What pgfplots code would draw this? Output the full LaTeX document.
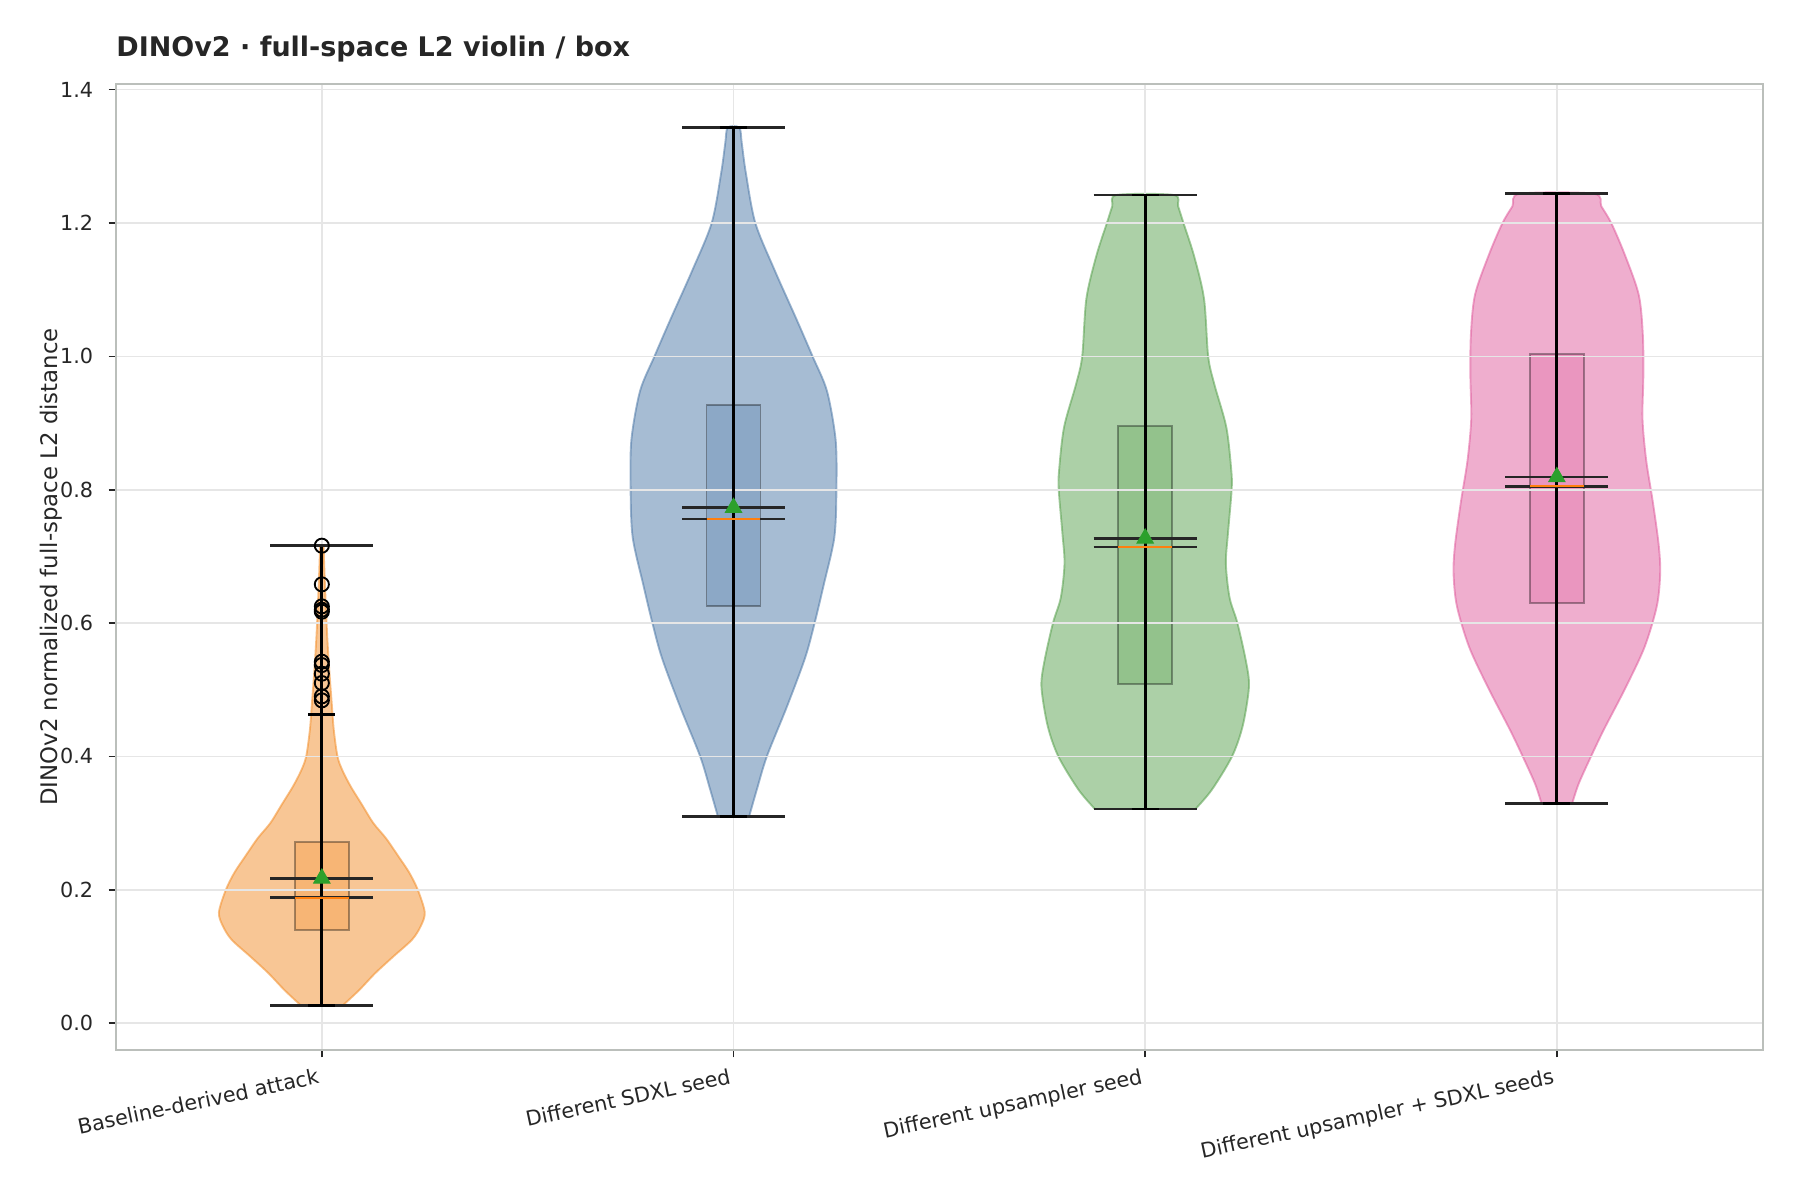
\documentclass[border=0pt]{standalone}
\usepackage{fontspec}
\setmainfont{DejaVu Sans}
\usepackage{pgfplots}
\pgfplotsset{compat=1.18}
\usepackage{pgfplotstable}

\definecolor{vorange}{HTML}{F28E2B}
\definecolor{vblue}{HTML}{4E79A7}
\definecolor{vgreen}{HTML}{59A14F}
\definecolor{vpink}{HTML}{DF5D9D}
\definecolor{medorange}{HTML}{FF7F0E}
\definecolor{meangreen}{HTML}{2CA02C}
\definecolor{framegray}{HTML}{BBBFBB}
\definecolor{gridgray}{HTML}{E6E6E6}
\definecolor{txt}{HTML}{262626}

% Violin outlines: half-width w (x units) at each value y
\pgfplotstableread{
y w
0.026 0.050
0.049 0.090
0.075 0.130
0.100 0.174
0.125 0.219
0.145 0.240
0.166 0.250
0.200 0.233
0.226 0.212
0.250 0.186
0.277 0.156
0.300 0.125
0.328 0.097
0.355 0.070
0.379 0.050
0.400 0.038
0.440 0.029
0.480 0.024
0.530 0.018
0.581 0.013
0.650 0.008
0.700 0.005
0.716 0.004
}\vBaseline

\pgfplotstableread{
y w
0.310 0.038
0.351 0.057
0.400 0.081
0.475 0.130
0.548 0.174
0.600 0.197
0.657 0.219
0.729 0.245
0.802 0.250
0.875 0.248
0.948 0.227
1.000 0.192
1.057 0.152
1.129 0.100
1.200 0.053
1.275 0.030
1.320 0.020
1.343 0.014
}\vSdxl

\pgfplotstableread{
y w
0.321 0.122
0.350 0.162
0.400 0.211
0.446 0.237
0.504 0.252
0.542 0.245
0.600 0.224
0.638 0.205
0.689 0.196
0.734 0.201
0.800 0.210
0.830 0.209
0.894 0.197
0.958 0.168
1.000 0.153
1.086 0.143
1.150 0.119
1.200 0.093
1.225 0.080
1.242 0.069
}\vUps

\pgfplotstableread{
y w
0.329 0.037
0.359 0.053
0.400 0.083
0.440 0.114
0.502 0.166
0.564 0.213
0.626 0.243
0.676 0.251
0.719 0.247
0.782 0.233
0.844 0.217
0.906 0.208
0.968 0.210
1.030 0.209
1.092 0.199
1.154 0.164
1.200 0.132
1.225 0.108
1.244 0.089
}\vBoth

% Outliers of the first group
\pgfplotstableread{
y
0.716
0.658
0.625
0.620
0.617
0.542
0.537
0.524
0.510
0.490
0.484
}\outliers

% Build a closed outline: right side upwards (s=1), left side downwards (s=-1)
\newcommand\mirror[1]{%
  \pgfplotstablesort[sort key=y, sort cmp=float >]{\tmpdown}{#1}%
  \pgfplotstablecreatecol[create col/set={1}]{s}{#1}%
  \pgfplotstablecreatecol[create col/set={-1}]{s}{\tmpdown}%
  \pgfplotstablevertcat{#1}{\tmpdown}%
}
\mirror{\vBaseline}
\mirror{\vSdxl}
\mirror{\vUps}
\mirror{\vBoth}

\pgfplotsset{
  violin/.style={on layer=axis background, smooth, tension=0.5,
    fill=#1, fill opacity=0.5, draw=#1, draw opacity=0.55, line width=0.9pt},
  qbox/.style={on layer=axis background, fill=#1, fill opacity=0.3,
    draw=black, draw opacity=0.35, line width=0.9pt},
}

\begin{document}
\begin{tikzpicture}
\begin{axis}[
  at={(0.7733in,1in)}, anchor=south west,
  width=10.978in, height=6.44in, scale only axis,
  set layers,
  xmin=-0.5, xmax=3.5, ymin=-0.0404, ymax=1.4085,
  xtick={0,1,2,3},
  xticklabels={Baseline-derived attack, Different SDXL seed, Different upsampler seed, Different upsampler + SDXL seeds},
  ytick={0,0.2,0.4,0.6,0.8,1.0,1.2,1.4},
  yticklabel style={/pgf/number format/fixed, /pgf/number format/fixed zerofill, /pgf/number format/precision=1, xshift=-4pt},
  /pgf/number format/assume math mode=true,
  xticklabel style={rotate=12, anchor=north east, yshift=-1pt},
  ticklabel style={font=\fontsize{10}{12}\selectfont, text=txt},
  tick pos=left, tick align=outside, major tick length=3.5pt,
  tick style={color=txt, line width=0.8pt},
  grid=major, grid style={gridgray, line width=0.8pt},
  axis line style={framegray, line width=1pt},
  unbounded coords=jump,
]
% violin bodies, beneath the grid
\addplot[violin=vorange] table[x expr=0+\thisrow{s}*\thisrow{w}, y=y] {\vBaseline} -- cycle;
\addplot[violin=vblue]   table[x expr=1+\thisrow{s}*\thisrow{w}, y=y] {\vSdxl} -- cycle;
\addplot[violin=vgreen]  table[x expr=2+\thisrow{s}*\thisrow{w}, y=y] {\vUps} -- cycle;
\addplot[violin=vpink]   table[x expr=3+\thisrow{s}*\thisrow{w}, y=y] {\vBoth} -- cycle;

% boxes (quartiles)
\addplot[qbox=vorange] coordinates {(-0.0655,0.140) (0.0655,0.140) (0.0655,0.271) (-0.0655,0.271)} -- cycle;
\addplot[qbox=vblue]   coordinates {(0.9345,0.626) (1.0655,0.626) (1.0655,0.927) (0.9345,0.927)} -- cycle;
\addplot[qbox=vgreen]  coordinates {(1.9345,0.509) (2.0655,0.509) (2.0655,0.895) (1.9345,0.895)} -- cycle;
\addplot[qbox=vpink]   coordinates {(2.9345,0.630) (3.0655,0.630) (3.0655,1.004) (2.9345,1.004)} -- cycle;

% extrema bars
\addplot[black, line width=1.5pt] coordinates {(0,0.026) (0,0.716) (nan,nan) (1,0.310) (1,1.343) (nan,nan) (2,0.321) (2,1.242) (nan,nan) (3,0.329) (3,1.244)};

% caps: min, max, mean, median
\addplot[black!85, line width=1.2pt] coordinates {
  (-0.125,0.026) (0.125,0.026) (nan,nan) (-0.125,0.716) (0.125,0.716) (nan,nan)
  (-0.125,0.217) (0.125,0.217) (nan,nan) (-0.125,0.188) (0.125,0.188) (nan,nan)
  (0.875,0.310) (1.125,0.310) (nan,nan) (0.875,1.343) (1.125,1.343) (nan,nan)
  (0.875,0.773) (1.125,0.773) (nan,nan) (0.875,0.756) (1.125,0.756) (nan,nan)
  (1.875,0.321) (2.125,0.321) (nan,nan) (1.875,1.242) (2.125,1.242) (nan,nan)
  (1.875,0.727) (2.125,0.727) (nan,nan) (1.875,0.714) (2.125,0.714) (nan,nan)
  (2.875,0.329) (3.125,0.329) (nan,nan) (2.875,1.244) (3.125,1.244) (nan,nan)
  (2.875,0.819) (3.125,0.819) (nan,nan) (2.875,0.805) (3.125,0.805)};

% whisker caps of the box plots
\addplot[black, line width=1.3pt] coordinates {
  (-0.033,0.026) (0.033,0.026) (nan,nan) (-0.033,0.463) (0.033,0.463) (nan,nan)
  (0.967,0.310) (1.033,0.310) (nan,nan) (0.967,1.343) (1.033,1.343) (nan,nan)
  (1.967,0.321) (2.033,0.321) (nan,nan) (1.967,1.242) (2.033,1.242) (nan,nan)
  (2.967,0.329) (3.033,0.329) (nan,nan) (2.967,1.244) (3.033,1.244)};

% medians of the box plots
\addplot[medorange, line width=1.1pt] coordinates {
  (-0.0655,0.188) (0.0655,0.188) (nan,nan) (0.9345,0.756) (1.0655,0.756) (nan,nan)
  (1.9345,0.714) (2.0655,0.714) (nan,nan) (2.9345,0.805) (3.0655,0.805)};

% outliers
\addplot[only marks, mark=o, mark size=3.4pt, mark options={black, line width=0.9pt}]
  table[x expr=0, y=y] {\outliers};

% means
\addplot[only marks, mark=triangle*, mark size=4.6pt, mark options={fill=meangreen, draw=meangreen}]
  coordinates {(0,0.217) (1,0.773) (2,0.727) (3,0.819)};
\end{axis}

\node[anchor=base west, font=\fontsize{13}{16}\selectfont\bfseries, text=txt, inner sep=0pt]
  at (0.7733in, 7.62in) {DINOv2 · full-space L2 violin / box};
\node[anchor=base, rotate=90, font=\fontsize{11}{13}\selectfont, text=txt, inner sep=0pt]
  at (0.385in, 4.22in) {DINOv2 normalized full-space L2 distance};
\pgfresetboundingbox
\useasboundingbox (0,0) rectangle (12in,8in);
\end{tikzpicture}
\end{document}
